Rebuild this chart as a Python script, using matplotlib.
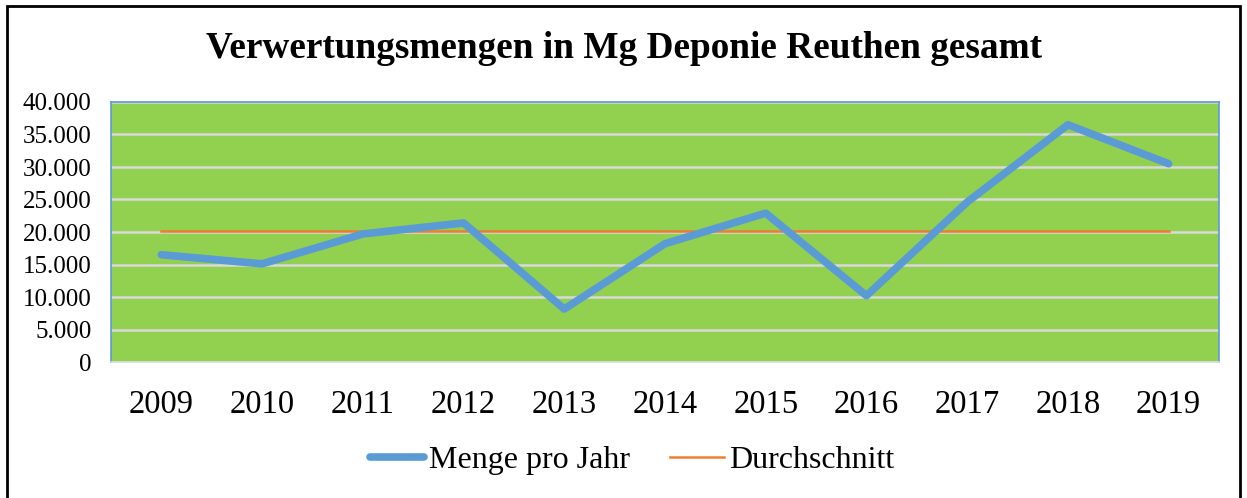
import numpy as np
import matplotlib.pyplot as plt
from matplotlib.patches import Rectangle
from matplotlib.ticker import FuncFormatter

plt.rcParams['font.family'] = ['Liberation Serif', 'DejaVu Serif']

years = ['2009', '2010', '2011', '2012', '2013', '2014', '2015', '2016', '2017', '2018', '2019']
menge = [16500, 15100, 19700, 21400, 8150, 18200, 22900, 10200, 24600, 36500, 30500]
durchschnitt = [20200] * len(years)

fig = plt.figure(figsize=(12.47, 4.98), dpi=100)
ax = fig.add_axes([111/1247, 1 - 362/498, 1108/1247, 260/498])

x = np.arange(len(years))
ax.set_facecolor('#92d050')
ax.plot(x, menge, color='#5b9bd5', lw=5.5, solid_capstyle='round', solid_joinstyle='round',
        label='Menge pro Jahr', zorder=3)
ax.plot(x, durchschnitt, color='#ed7d31', lw=1.8, label='Durchschnitt', zorder=2)

ax.set_xlim(-0.5, len(years) - 0.5)
ax.set_ylim(0, 40000)
ax.set_yticks(np.arange(0, 40001, 5000))
ax.yaxis.set_major_formatter(FuncFormatter(lambda v, p: f'{int(v):,}'.replace(',', '.')))
ax.set_xticks(x)
ax.set_xticklabels(years)
ax.grid(axis='y', color='#d9d9d9', lw=1.8)
ax.set_axisbelow(True)
ax.tick_params(axis='y', length=0, labelsize=18, pad=14)
ax.tick_params(axis='x', length=0, labelsize=23.5, pad=20)
for s in ax.spines.values():
    s.set_color('#5b9bd5')
    s.set_linewidth(1.2)
ax.spines['bottom'].set_color('#d9d9d9')

fig.text(0.5, 1 - 48/498, 'Verwertungsmengen in Mg Deponie Reuthen gesamt',
         ha='center', va='center', fontsize=26.8, fontweight='bold')

fig.legend(loc='center', bbox_to_anchor=(632/1247, 1 - 460/498), ncol=2, frameon=False,
           fontsize=23, handlelength=1.7, handletextpad=0.15, columnspacing=1.25)

fig.patches.append(Rectangle((7/1247, -0.01), 1233/1247, 1 - 6/498 + 0.01,
                             transform=fig.transFigure, fill=False, edgecolor='black', lw=2))

fig.savefig('out.png', dpi=100)
